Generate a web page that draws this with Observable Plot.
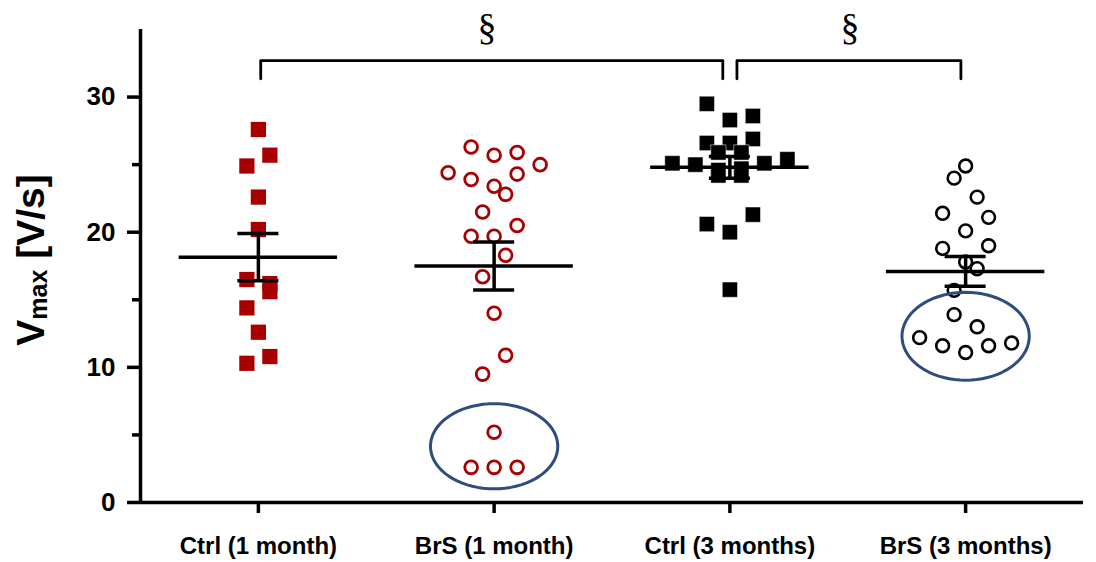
<!DOCTYPE html>
<html>
<head>
<meta charset="utf-8">
<script src="https://cdn.jsdelivr.net/npm/d3@7"></script>
<script src="https://cdn.jsdelivr.net/npm/@observablehq/plot@0.6"></script>
<style>
  html, body { margin: 0; padding: 0; background: #fff; }
  #chart svg { display: block; }
</style>
</head>
<body>
<div id="chart"></div>
<script>
// ---- Data ----
const groups = ["Ctrl (1 month)", "BrS (1 month)", "Ctrl (3 months)", "BrS (3 months)"];

const ctrl1    = [27.6, 25.7, 24.9, 22.6, 20.2, 16.5, 16.2, 15.6, 14.4, 12.6, 10.8, 10.3];
const ctrl1Col = [0, 1, -1, 0, 0, -1, 1, 1, -1, 0, 1, -1];

const brs1    = [26.3, 25.7, 25.9, 25.0, 24.4, 23.9, 24.3, 23.4, 22.8, 21.5, 20.5, 19.7, 19.7, 18.3, 16.7, 14.0, 10.9, 9.5, 5.2, 2.6, 2.6, 2.6];
const brs1Col = [-2, 0, 2, 4, -4, -2, 2, 0, 1, -1, 2, -2, 0, 1, -1, 0, 1, -1, 0, -2, 0, 2];

const ctrl3    = [29.5, 28.3, 28.6, 26.6, 26.6, 26.9, 25.9, 25.9, 25.1, 25.0, 25.1, 25.4, 24.6, 24.7, 24.2, 24.2, 20.6, 20.0, 21.3, 15.75];
const ctrl3Col = [-2, 0, 2, -2, 0, 2, -1, 1, -5, -3, 3, 5, -1, 1, -1, 1, -2, 0, 2, 0];

const brs3    = [24.9, 24.0, 22.6, 21.4, 21.1, 20.1, 18.8, 19.0, 17.8, 17.3, 15.7, 13.9, 13.0, 12.2, 11.6, 11.1, 11.6, 11.8];
const brs3Col = [0, -1, 1, -2, 2, 0, -2, 2, 0, 1, -1, -1, 1, -4, -2, 0, 2, 4];

const means = [18.15, 17.5, 24.8, 17.1];
const sems  = [1.75, 1.78, 0.8, 1.1];

const majorTicks = [0, 10, 20, 30];
const minorTicks = [5, 15, 25];

// highlighted subgroups (ellipses): group, centre value, half-width (groups), half-height (V/s)
const ellipseGroup = [2, 4];
const ellipseY     = [4.16, 12.3];
const ellipseRx    = [0.27, 0.27];
const ellipseRy    = [3.15, 3.25];

// significance brackets
const bracketFrom  = [1.01, 3.03];
const bracketTo    = [2.97, 3.98];
const bracketTop   = 32.7;
const bracketEnd   = 31.35;
const bracketLabel = ["§", "§"];
const bracketLabelX = [1.97, 3.51];
const bracketLabelY = 35.1;

// ---- Layout ----
const W = 1096, H = 562;
const mL = 140, mR = 13, mT = 29, mB = 60;
const xDomain = [0.5, 4.5], yDomain = [0, 35];
const ux = (xDomain[1] - xDomain[0]) / (W - mL - mR);   // group units per pixel
const uy = (yDomain[1] - yDomain[0]) / (H - mT - mB);   // V/s per pixel
const colStep = 11.5 * ux;

const red = "#a80000";
const blue = "#2f4c7e";

function pts(vals, cols, g) {
  return vals.map((v, i) => ({x: g + cols[i] * colStep, y: v}));
}
const p1 = pts(ctrl1, ctrl1Col, 1);
const p2 = pts(brs1, brs1Col, 2);
const p3 = pts(ctrl3, ctrl3Col, 3);
const p4 = pts(brs3, brs3Col, 4);

const stats = means.map((m, i) => ({g: i + 1, m, lo: m - sems[i], hi: m + sems[i]}));

const ellipsePts = [];
ellipseGroup.forEach((g, k) => {
  for (let a = 0; a < 72; a++) {
    const t = a / 72 * 2 * Math.PI;
    ellipsePts.push({k, x: g + ellipseRx[k] * Math.cos(t), y: ellipseY[k] + ellipseRy[k] * Math.sin(t)});
  }
});

const bracketPts = [];
bracketFrom.forEach((f, k) => {
  const t = bracketTo[k];
  bracketPts.push({k, x: f, y: bracketEnd}, {k, x: f, y: bracketTop}, {k, x: t, y: bracketTop}, {k, x: t, y: bracketEnd});
});

const lw = 3.5;
const chart = Plot.plot({
  width: W, height: H,
  marginLeft: mL, marginRight: mR, marginTop: mT, marginBottom: mB,
  x: {domain: xDomain, axis: null},
  y: {domain: yDomain, axis: null},
  style: {fontFamily: "'Liberation Sans', Arial, sans-serif", color: "black", background: "white", overflow: "visible"},
  marks: [
    // axes
    Plot.ruleX([xDomain[0]], {y1: yDomain[0], y2: yDomain[1], strokeWidth: lw}),
    Plot.ruleY([0], {x1: xDomain[0], x2: xDomain[1], strokeWidth: lw}),
    Plot.ruleY(majorTicks, {y: d => d, x1: xDomain[0], x2: xDomain[0] - 13 * ux, strokeWidth: lw}),
    Plot.ruleY(minorTicks, {y: d => d, x1: xDomain[0], x2: xDomain[0] - 8 * ux, strokeWidth: lw}),
    Plot.ruleX(groups, {x: (d, i) => i + 1, y1: 0, y2: -11 * uy, strokeWidth: lw}),
    Plot.text(majorTicks, {x: xDomain[0], y: d => d, text: d => String(d), textAnchor: "end", dx: -25, fontSize: 26, fontWeight: "bold"}),
    Plot.text(groups, {x: (d, i) => i + 1, y: 0, dy: 44, text: d => d, fontSize: 24, fontWeight: "bold"}),

    // points
    Plot.dot(p1, {x: "x", y: "y", symbol: "square", r: 8.6, fill: red, stroke: "none"}),
    Plot.dot(p2, {x: "x", y: "y", symbol: "circle", r: 6.4, fill: "none", stroke: red, strokeWidth: 2.8}),
    Plot.dot(p3, {x: "x", y: "y", symbol: "square", r: 8.6, fill: "black", stroke: "white", strokeWidth: 0.5}),
    Plot.dot(p4, {x: "x", y: "y", symbol: "circle", r: 6.4, fill: "none", stroke: "black", strokeWidth: 2.6}),

    // mean ± SEM
    Plot.ruleY(stats, {y: "m", x1: d => d.g - 0.336, x2: d => d.g + 0.336, strokeWidth: lw}),
    Plot.ruleX(stats, {x: "g", y1: "lo", y2: "hi", strokeWidth: lw}),
    Plot.ruleY(stats, {y: "lo", x1: d => d.g - 0.087, x2: d => d.g + 0.087, strokeWidth: lw}),
    Plot.ruleY(stats, {y: "hi", x1: d => d.g - 0.087, x2: d => d.g + 0.087, strokeWidth: lw}),

    // highlight ellipses
    Plot.line(ellipsePts, {x: "x", y: "y", z: "k", curve: "linear-closed", stroke: blue, strokeWidth: 3}),

    // significance brackets
    Plot.line(bracketPts, {x: "x", y: "y", z: "k", stroke: "black", strokeWidth: 2.8, strokeLinejoin: "round"}),
    Plot.text(bracketLabel, {x: (d, i) => bracketLabelX[i], y: bracketLabelY, text: d => d, fontSize: 38, fontFamily: "'Liberation Serif', 'DejaVu Serif', serif"})
  ]
});

// y-axis title with subscript
const svg = d3.select(chart);
const t = svg.append("text")
  .attr("transform", "translate(44,260) rotate(-90)")
  .attr("text-anchor", "middle")
  .attr("font-family", "'Liberation Sans', Arial, sans-serif")
  .attr("font-weight", "bold")
  .attr("fill", "black");
t.append("tspan").attr("font-size", 39).text("V");
t.append("tspan").attr("font-size", 25).attr("dy", 3).text("max");
t.append("tspan").attr("font-size", 39).attr("dy", -3).text("\u00a0[V/s]");

document.getElementById("chart").appendChild(chart);
</script>
</body>
</html>
